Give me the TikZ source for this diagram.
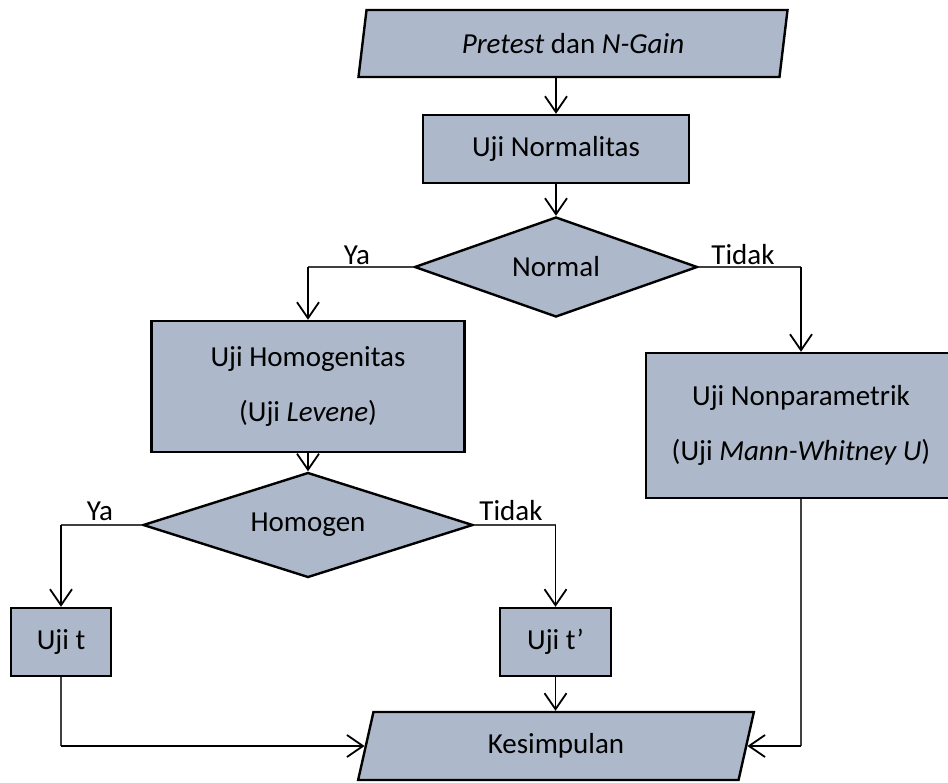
\documentclass[tikz,border=0pt]{standalone}
\usepackage{fontspec}
\setmainfont{Carlito}
\usetikzlibrary{arrows.meta,positioning,shapes.geometric}
\definecolor{boxfill}{RGB}{173,185,202}

\begin{document}
\begin{tikzpicture}[x=1pt,y=-1pt,
  font=\fontsize{29}{35}\selectfont,
  procbox/.style={draw, line width=2.4pt, fill=boxfill, inner sep=0pt, align=center},
  decbox/.style={diamond, draw, line width=2.4pt, fill=boxfill, inner sep=0pt},
  iobox/.style={trapezium, draw, line width=2.4pt, fill=boxfill, inner sep=0pt,
    trapezium stretches=true},
  flow/.style={-{Straight Barb[length=16pt,width=22pt]}, line width=1.8pt},
  feed/.style={line width=1.1pt, black!75}]
  \useasboundingbox (0,0) rectangle (948,782);

  % the boxes
  \node[iobox, trapezium left angle=78, trapezium right angle=102,
    minimum width=430pt, minimum height=67pt] (data) at (573,43.5)
    {\textit{Pretest} dan \textit{N-Gain}};
  \node[procbox, minimum width=266pt, minimum height=68pt] (norm) at (556,149) {Uji Normalitas};
  \node[decbox, shape aspect=2.83, minimum width=283pt, minimum height=100pt] (normal) at (556,267) {Normal};
  \node[procbox, minimum width=313pt, minimum height=131pt] (homog) at (308,386.5)
    {Uji Homogenitas\\[20pt](Uji \textit{Levene})};
  \node[procbox, minimum width=310pt, minimum height=145pt] (nonpar) at (801,425.5)
    {Uji Nonparametrik\\[20pt](Uji \textit{Mann-Whitney U})};
  \node[decbox, shape aspect=3.14, minimum width=330pt, minimum height=105pt] (homogen) at (308,525) {Homogen};
  \node[procbox, minimum width=100pt, minimum height=68pt] (ujit) at (61,642) {Uji t};
  \node[procbox, minimum width=111pt, minimum height=68pt] (ujtp) at (555.5,642) {Uji t’};
  \node[iobox, trapezium left angle=77, trapezium right angle=103,
    minimum width=396pt, minimum height=68pt] (kes) at (556,746) {Kesimpulan};

  % the labels
  \node[anchor=base, inner sep=0pt] (ya1) at (357,264) {Ya};
  \node[anchor=base, inner sep=0pt] (tidak1) at (743,264) {Tidak};
  \node[anchor=base, inner sep=0pt] (ya2) at (100,520) {Ya};
  \node[anchor=base, inner sep=0pt] (tidak2) at (511,520) {Tidak};

  % the connectors
  \draw[flow] (data.south -| norm.north) -- (norm.north);
  \draw[flow] (norm.south) -- (normal.north);
  \draw[feed] (normal.west) -- (normal.west -| homog.north) coordinate (c1);
  \draw[flow] (c1) -- (homog.north);
  \draw[feed] (normal.east) -- (normal.east -| nonpar.north) coordinate (c2);
  \draw[flow] (c2) -- (nonpar.north);
  \draw[flow] (homog.south) -- (homogen.north);
  \draw[feed] (homogen.west) -- (homogen.west -| ujit.north) coordinate (c3);
  \draw[flow] (c3) -- (ujit.north);
  \draw[feed] (homogen.east) -- (homogen.east -| ujtp.north) coordinate (c4);
  \draw[flow] (c4) -- (ujtp.north);
  \draw[flow] (ujtp.south) -- (ujtp.south |- kes.north);
  \draw[feed] (ujit.south) -- (ujit.south |- kes.west) coordinate (c5);
  \draw[flow] (c5) -- (kes.west);
  \draw[feed] (nonpar.south) -- (nonpar.south |- kes.east) coordinate (c6);
  \draw[flow] (c6) -- (kes.east);
\end{tikzpicture}
\end{document}
